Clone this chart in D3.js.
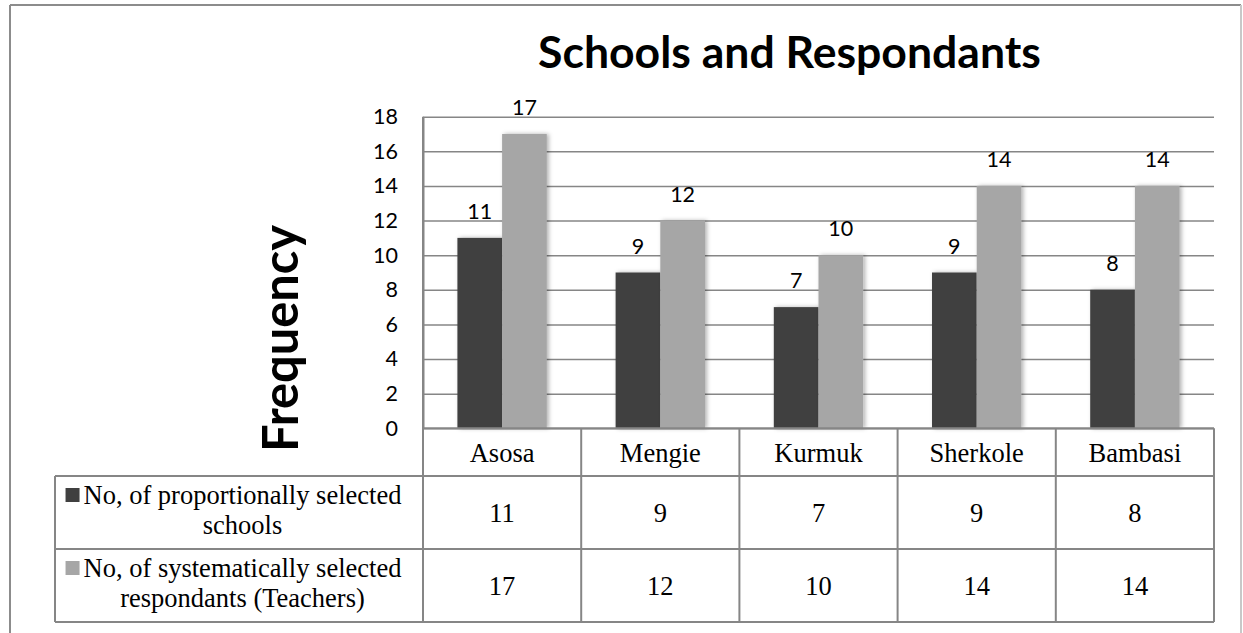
<!DOCTYPE html>
<html>
<head>
<meta charset="utf-8">
<script src="https://cdn.jsdelivr.net/npm/d3@7"></script>
<style>
  body { margin: 0; background: #fff; }
  svg { display: block; }
</style>
</head>
<body>
<div id="chart"></div>
<script>
// data
var categories = ["Asosa", "Mengie", "Kurmuk", "Sherkole", "Bambasi"];
var schools = [11, 9, 7, 9, 8];
var teachers = [17, 12, 10, 14, 14];
var seriesKeys = ["schools", "teachers"];
var seriesLabels = [
  ["No, of proportionally selected", "schools"],
  ["No, of systematically selected", "respondants (Teachers)"]
];
var seriesColors = ["#404040", "#a6a6a6"];
var yTicks = [0, 2, 4, 6, 8, 10, 12, 14, 16, 18];
var title = "Schools and Respondants";
var yTitle = "Frequency";

var W = 1243, H = 633;
var plot = { left: 423, right: 1214, top: 116.7, bottom: 428.3 };
var rowLines = [428.3, 476, 549, 622];
var tableLeft = 55;
var gridColor = "#868686";

var svg = d3.select("#chart").append("svg")
  .attr("width", W).attr("height", H);

// soft shadow on bars
var defs = svg.append("defs");
defs.append("filter").attr("id", "shadow")
  .attr("x", "-20%").attr("y", "-5%").attr("width", "140%").attr("height", "110%")
  .append("feDropShadow")
  .attr("dx", 2).attr("dy", 0).attr("stdDeviation", 2)
  .attr("flood-color", "#000").attr("flood-opacity", 0.3);

// outer frame
svg.append("line").attr("x1", 10).attr("x2", 1241).attr("y1", 5).attr("y2", 5)
  .attr("stroke", "#8c8c8c").attr("stroke-width", 2);
svg.append("line").attr("x1", 10).attr("x2", 10).attr("y1", 5).attr("y2", H)
  .attr("stroke", "#8c8c8c").attr("stroke-width", 2);
svg.append("line").attr("x1", 1241).attr("x2", 1241).attr("y1", 5).attr("y2", H)
  .attr("stroke", "#c8c8c8").attr("stroke-width", 2);

var data = categories.map(function (c, i) {
  return { cat: c, schools: schools[i], teachers: teachers[i] };
});

var x0 = d3.scaleBand().domain(categories).range([plot.left, plot.right]).padding(0);
var x1 = d3.scaleBand().domain(seriesKeys).range([0, x0.bandwidth()])
  .paddingInner(0).paddingOuter(0.77);
var y = d3.scaleLinear().domain([0, 18]).range([plot.bottom, plot.top]);
var color = d3.scaleOrdinal().domain(seriesKeys).range(seriesColors);

function fitText(sel, target) {
  var len = sel.node().getComputedTextLength();
  var fs = parseFloat(sel.attr("font-size"));
  sel.attr("font-size", fs * target / len);
}

// gridlines + y axis
var yAxis = svg.append("g")
  .attr("transform", "translate(" + plot.left + ",0)")
  .call(d3.axisLeft(y).tickValues(yTicks).tickSize(-(plot.right - plot.left))
    .tickSizeOuter(0).tickPadding(25));
yAxis.select(".domain").attr("stroke", gridColor).attr("stroke-width", 2);
yAxis.selectAll(".tick line").attr("stroke", gridColor).attr("stroke-width", 1.5);
yAxis.selectAll(".tick text")
  .attr("font-family", "Lato, 'Open Sans', sans-serif")
  .attr("font-size", 21.5).attr("fill", "#000");

// bars
var groups = svg.append("g").selectAll("g").data(data).enter().append("g")
  .attr("transform", function (d) { return "translate(" + x0(d.cat) + ",0)"; });

groups.selectAll("rect")
  .data(function (d) { return seriesKeys.map(function (k) { return { key: k, value: d[k] }; }); })
  .enter().append("rect")
  .attr("x", function (d) { return x1(d.key); })
  .attr("width", x1.bandwidth())
  .attr("y", function (d) { return y(d.value); })
  .attr("height", function (d) { return y(0) - y(d.value); })
  .attr("fill", function (d) { return color(d.key); })
  .attr("filter", "url(#shadow)");

// data labels
groups.selectAll("text")
  .data(function (d) { return seriesKeys.map(function (k) { return { key: k, value: d[k] }; }); })
  .enter().append("text")
  .attr("x", function (d) { return x1(d.key) + x1.bandwidth() / 2; })
  .attr("y", function (d) { return y(d.value) - 19; })
  .attr("text-anchor", "middle")
  .attr("font-family", "Lato, 'Open Sans', sans-serif")
  .attr("font-size", 21.5)
  .text(function (d) { return d.value; });

// title
var t = svg.append("text")
  .attr("x", 789.5).attr("y", 68)
  .attr("text-anchor", "middle")
  .attr("font-family", "Lato, 'Open Sans', sans-serif")
  .attr("font-weight", "bold")
  .attr("font-size", 38)
  .text(title);
fitText(t, 503);

// y title
var yt = svg.append("text")
  .attr("transform", "translate(298,338.5) rotate(-90)")
  .attr("text-anchor", "middle")
  .attr("font-family", "Lato, 'Open Sans', sans-serif")
  .attr("font-weight", "bold")
  .attr("font-size", 44)
  .text(yTitle);
fitText(yt, 227);

// data table
var table = svg.append("g");
var lineAttrs = function (s) { return s.attr("stroke", gridColor).attr("stroke-width", 2); };

// horizontal rules
rowLines.forEach(function (ly, i) {
  table.append("line")
    .attr("x1", i === 0 ? plot.left : tableLeft).attr("x2", plot.right)
    .attr("y1", ly).attr("y2", ly)
    .call(lineAttrs);
});
// vertical rules
var colEdges = categories.map(function (c) { return x0(c); }).concat([plot.right]);
colEdges.forEach(function (cx, i) {
  table.append("line")
    .attr("x1", cx).attr("x2", cx)
    .attr("y1", i === 0 ? plot.top : rowLines[0]).attr("y2", rowLines[3])
    .call(lineAttrs);
});
table.append("line")
  .attr("x1", tableLeft).attr("x2", tableLeft)
  .attr("y1", rowLines[1]).attr("y2", rowLines[3])
  .call(lineAttrs);

var serif = "'Liberation Serif', 'Times New Roman', serif";
var serifSize = 26.5;

// category header row
table.selectAll(".cat").data(categories).enter().append("text")
  .attr("class", "cat")
  .attr("x", function (d) { return x0(d) + x0.bandwidth() / 2; })
  .attr("y", (rowLines[0] + rowLines[1]) / 2 + 9.5)
  .attr("text-anchor", "middle")
  .attr("font-family", serif).attr("font-size", serifSize)
  .text(function (d) { return d; });

// value rows
var seriesValues = [schools, teachers];
seriesValues.forEach(function (vals, r) {
  var cy = (rowLines[r + 1] + rowLines[r + 2]) / 2;
  table.selectAll(".val" + r).data(vals).enter().append("text")
    .attr("x", function (d, i) { return x0(categories[i]) + x0.bandwidth() / 2; })
    .attr("y", cy + 9.5)
    .attr("text-anchor", "middle")
    .attr("font-family", serif).attr("font-size", serifSize)
    .text(function (d) { return d; });

  // legend cell
  var lx = (tableLeft + plot.left) / 2 + 3.5;
  var first = table.append("text")
    .attr("x", lx).attr("y", cy - 9)
    .attr("text-anchor", "middle")
    .attr("font-family", serif).attr("font-size", serifSize)
    .text(seriesLabels[r][0]);
  table.append("text")
    .attr("x", lx).attr("y", cy + 21)
    .attr("text-anchor", "middle")
    .attr("font-family", serif).attr("font-size", serifSize)
    .text(seriesLabels[r][1]);
  var tw = first.node().getComputedTextLength();
  table.append("rect")
    .attr("x", lx - tw / 2 - 18).attr("y", cy - 24.5)
    .attr("width", 14).attr("height", 14)
    .attr("fill", seriesColors[r]);
});
</script>
</body>
</html>
